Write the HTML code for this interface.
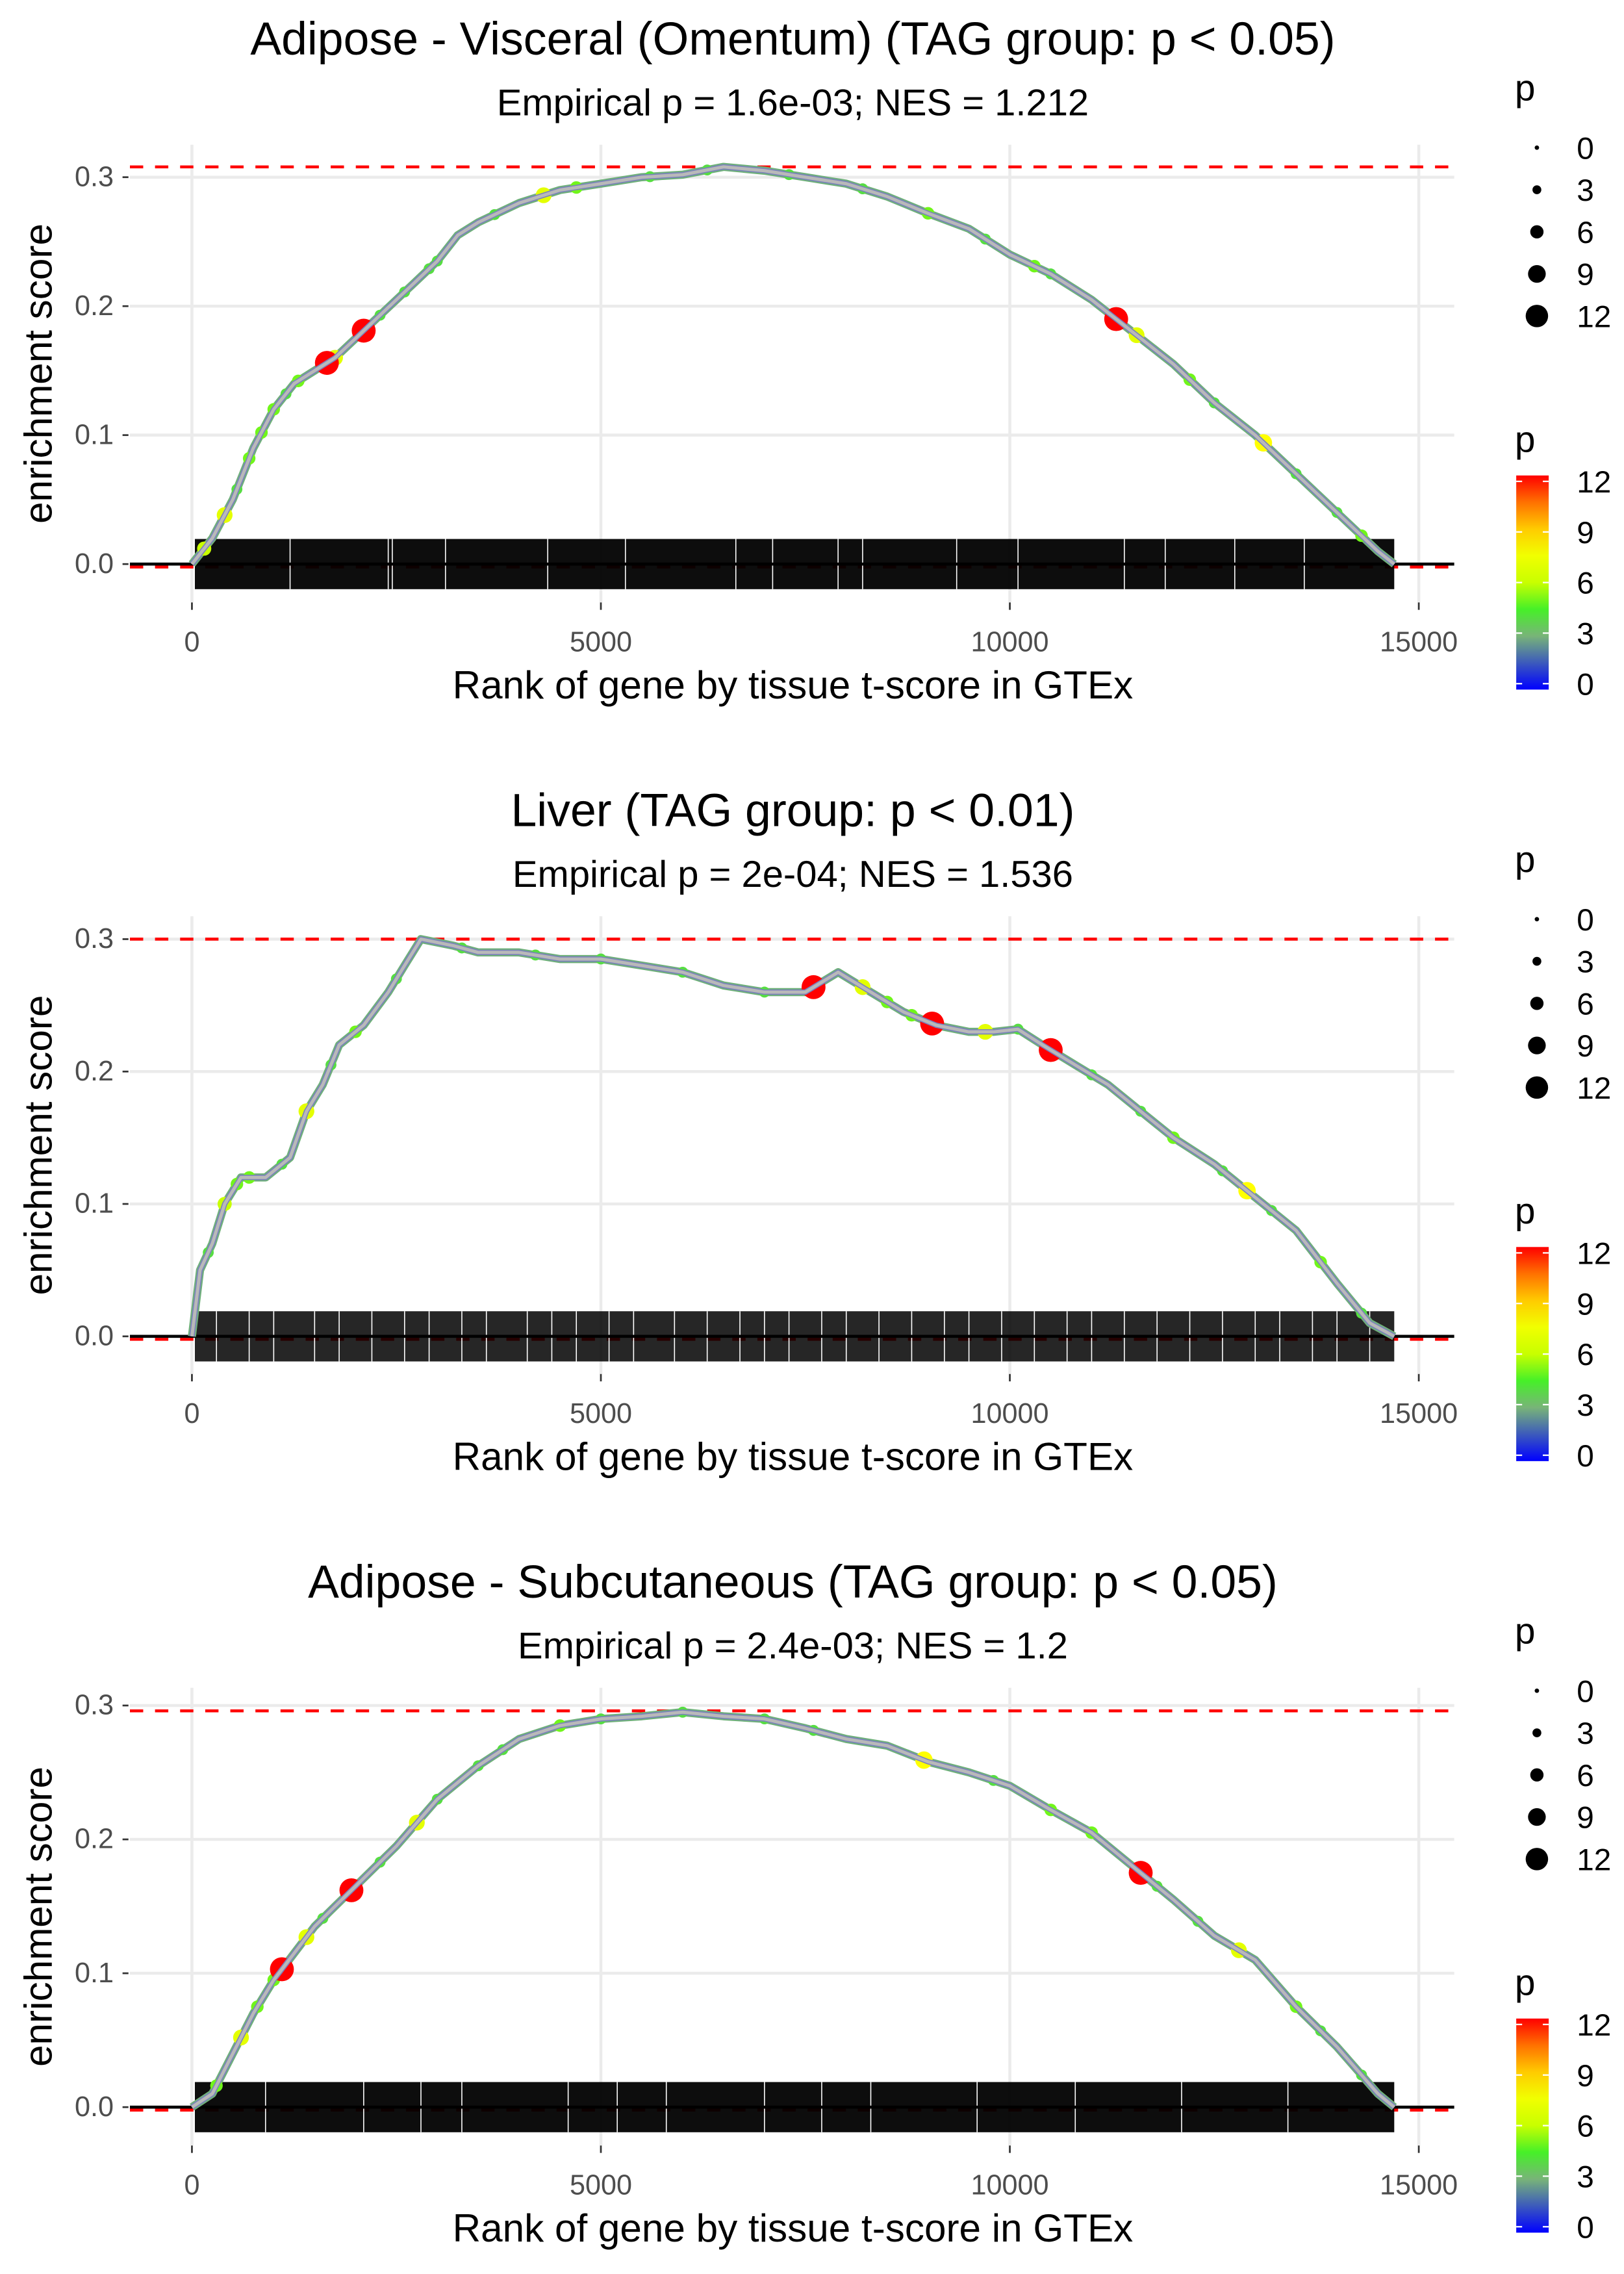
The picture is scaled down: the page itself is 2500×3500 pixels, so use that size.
<!DOCTYPE html>
<html><head><meta charset="utf-8"><style>
html,body{margin:0;padding:0;background:#fff}
svg{display:block}
text{font-family:"Liberation Sans",sans-serif}
</style></head><body>
<svg id="fig" xmlns="http://www.w3.org/2000/svg" width="2500" height="3500" viewBox="0 0 1100 1540" preserveAspectRatio="none"></svg>
<script>
// ---- data ----
const xTicks = [0, 5000, 10000, 15000];
const yTicks = [0, 0.1, 0.2, 0.3];
const yTickLabels = ["0.0", "0.1", "0.2", "0.3"];
const titles = ["Adipose - Visceral (Omentum) (TAG group: p < 0.05)", "Liver (TAG group: p < 0.01)", "Adipose - Subcutaneous (TAG group: p < 0.05)"];
const subtitles = ["Empirical p = 1.6e-03; NES = 1.212", "Empirical p = 2e-04; NES = 1.536", "Empirical p = 2.4e-03; NES = 1.2"];
const maxES = [0.308, 0.300, 0.296];
const rugEnd = [14700, 14700, 14700];
const rugOpacity = [0.95, 0.85, 0.95];
const rugGaps1 = [1200, 2400, 2450, 3100, 4350, 5300, 6650, 7100, 7900, 8200, 9350, 10100, 11400, 11900, 12750, 13600];
const rugGaps2 = [300, 700, 1000, 1500, 1800, 2200, 2600, 2900, 3300, 3600, 4100, 4400, 4700, 5100, 5400, 5900, 6300, 6700, 7000, 7300, 7700, 8000, 8400, 8800, 9200, 9500, 9900, 10300, 10700, 11000, 11400, 11800, 12200, 12600, 13000, 13300, 13700, 14000, 14400];
const rugGaps3 = [900, 2100, 2800, 3300, 4600, 5200, 5800, 7000, 7700, 8300, 9600, 10800, 12100, 13400];
const ranks1 = [0,250,500,750,1000,1250,1500,1750,2000,2250,2500,2750,3000,3250,3500,4000,4500,5000,5500,6000,6500,7000,7500,8000,8500,9000,9500,10000,10500,11000,11500,12000,12500,13000,13500,14000,14500,14700];
const es1 = [0,0.02,0.05,0.09,0.12,0.14,0.15,0.16,0.175,0.19,0.205,0.22,0.235,0.255,0.265,0.28,0.29,0.295,0.30,0.302,0.308,0.305,0.30,0.295,0.285,0.272,0.26,0.24,0.225,0.205,0.18,0.155,0.125,0.10,0.07,0.04,0.01,0];
const ranks2 = [0,100,250,400,600,900,1200,1400,1600,1800,2100,2400,2600,2800,3200,3500,4000,4500,5000,5500,6000,6500,7000,7500,7900,8300,8700,9100,9500,9800,10100,10400,10800,11200,11600,12000,12500,13000,13500,14000,14400,14700];
const es2 = [0,0.05,0.07,0.10,0.12,0.12,0.135,0.17,0.19,0.22,0.235,0.26,0.28,0.30,0.295,0.29,0.29,0.285,0.285,0.28,0.275,0.265,0.26,0.26,0.275,0.26,0.245,0.235,0.23,0.23,0.232,0.22,0.205,0.19,0.17,0.15,0.13,0.105,0.08,0.04,0.01,0];
const ranks3 = [0,250,500,750,1000,1250,1500,1750,2000,2500,3000,3500,4000,4500,5000,5500,6000,6500,7000,7500,8000,8500,9000,9500,10000,10500,11000,11500,12000,12500,13000,13500,14000,14500,14700];
const es3 = [0,0.01,0.04,0.07,0.095,0.115,0.135,0.15,0.165,0.195,0.23,0.255,0.275,0.285,0.29,0.292,0.295,0.292,0.29,0.283,0.275,0.27,0.258,0.25,0.24,0.222,0.205,0.18,0.155,0.128,0.11,0.075,0.045,0.01,0];
const hitRanks1 = [400,1750,4300,11550,13100,1000,1300,3000,6300,9000,10500,12200,14000,700,150,550,850,1150,2300,2600,2900,3700,4700,5600,7300,8200,9700,10300,12500,13500,14300,1650,2100,11300];
const hitP1 = [7,7,7,7,8,5,5,4,4,5,4,5,4,5,6,4,5,4,4,4,4,4,5,4,4,4,4,5,4,4,5,12,12,12];
const hitRanks2 = [1400,8200,9700,12900,400,700,2000,3300,5000,8500,11000,12000,13200,13800,14300,200,550,1100,1700,2500,4200,6000,7000,8800,10100,11600,12600,7600,9050,10500];
const hitP2 = [7,7,7,8,6,5,5,4,4,5,4,5,4,5,4,4,5,4,4,4,4,4,4,5,4,4,4,12,12,12];
const hitRanks3 = [600,1400,2750,8950,12800,300,1000,2300,3500,4500,6000,7000,10500,11800,13500,14300,800,1600,3000,3800,5000,7600,9800,11000,12300,13800,1100,1950,11600];
const hitP3 = [7,7,7,8,7,5,5,4,4,5,4,4,5,4,5,4,5,4,4,4,4,4,4,5,4,4,12,12,12];
const sizeLegend = [0,3,6,9,12];
const colorLegend = [12,9,6,3,0];

const panels = [
 {ranks:ranks1, es:es1, hits:hitRanks1, hp:hitP1, gaps:rugGaps1, top:0},
 {ranks:ranks2, es:es2, hits:hitRanks2, hp:hitP2, gaps:rugGaps2, top:522.5},
 {ranks:ranks3, es:es3, hits:hitRanks3, hp:hitP3, gaps:rugGaps3, top:1045}
];

const svg = document.getElementById('fig');
const NS = 'http://www.w3.org/2000/svg';
function mk(tag, attrs, parent){const e=document.createElementNS(NS,tag);for(const k in attrs)e.setAttribute(k,attrs[k]);(parent||svg).appendChild(e);return e;}
function txt(s, attrs, parent){const e=mk('text',attrs,parent);e.textContent=s;return e;}
function pColor(p){
  const stops=[[0,[0,0,255]],[3,[120,180,120]],[4.5,[70,240,40]],[6,[200,255,0]],[8,[255,255,0]],[10,[255,150,0]],[12,[255,0,0]]];
  for(let i=1;i<stops.length;i++){if(p<=stops[i][0]){const a=stops[i-1],b=stops[i];const t=(p-a[0])/(b[0]-a[0]);const c=a[1].map((v,j)=>Math.round(v+(b[1][j]-v)*t));return 'rgb('+c.join(',')+')';}}
  return 'rgb(255,0,0)';
}
function pRad(p){return 1.5+p*0.55;}
function interpES(ranks, es, r){for(let i=1;i<ranks.length;i++){if(r<=ranks[i]){const t=(r-ranks[i-1])/(ranks[i]-ranks[i-1]);return es[i-1]+(es[i]-es[i-1])*t;}}return es[es.length-1];}

panels.forEach((P, pi) => {
  const T = P.top;
  const g = mk('g', {});
  
  
  const x = r => 130 + r * (831/15000);
  const y0 = [382, 905, 1427][pi], y3 = [120, 636, 1155][pi];
  const y = v => y0 + (y3 - y0) * v / 0.3;
  const L = 88, R = 985, top = T + 98, bot = T + 408;
  const t = txt(titles[pi], {x:537, y:T+37, 'font-size':31.5, 'text-anchor':'middle', fill:'#000'}, g);
  
  
  const st = txt(subtitles[pi], {x:537, y:T+78, 'font-size':25.5, 'text-anchor':'middle', fill:'#000'}, g);
  
  
  xTicks.forEach(v => {
    const l = mk('line', {x1:x(v), x2:x(v), y1:top, y2:bot, stroke:'#ebebeb', 'stroke-width':2}, g);
    
    
    mk('line', {x1:x(v), x2:x(v), y1:bot, y2:bot+5, stroke:'#333', 'stroke-width':1.2}, g);
    const tl = txt(String(v), {x:x(v), y:T+441, 'font-size':19, 'text-anchor':'middle', fill:'#4d4d4d'}, g);
    
    
  });
  yTicks.forEach((v, i) => {
    const l = mk('line', {x1:L, x2:R, y1:y(v), y2:y(v), stroke:'#ebebeb', 'stroke-width':2}, g);
    
    
    mk('line', {x1:L-5, x2:L-1, y1:y(v), y2:y(v), stroke:'#333', 'stroke-width':1.2}, g);
    const tl = txt(yTickLabels[i], {x:77, y:y(v)+6, 'font-size':19, 'text-anchor':'end', fill:'#4d4d4d'}, g);
    
    
  });
  const xt = txt('Rank of gene by tissue t-score in GTEx', {x:537, y:T+473, 'font-size':26.5, 'text-anchor':'middle', fill:'#000'}, g);
  
  
  const yc = (top+bot)/2;
  const yt = txt('enrichment score', {x:35, y:yc, 'font-size':26.5, 'text-anchor':'middle', fill:'#000', transform:'rotate(-90 35 '+yc+')'}, g);
  
  
  const dl = mk('line', {x1:L, x2:R, y1:y(maxES[pi]), y2:y(maxES[pi]), stroke:'#ff0000', 'stroke-width':2, 'stroke-dasharray':'9 8'}, g);
  
  
  mk('line', {x1:L, x2:R, y1:y(0)+2, y2:y(0)+2, stroke:'#ff0000', 'stroke-width':2, 'stroke-dasharray':'9 8'}, g);
  const rug = mk('rect', {x:x(0)+2, y:y(0)-17, width:x(rugEnd[pi])-x(0)-2, height:34, fill:'#000', 'fill-opacity':rugOpacity[pi]}, g);
  
  
  P.gaps.forEach(r => {
    mk('line', {x1:x(r), x2:x(r), y1:y(0)-17, y2:y(0)+17, stroke:'#fff', 'stroke-width':0.7}, g);
  });
  const zl = mk('line', {x1:L, x2:R, y1:y(0), y2:y(0), stroke:'#000', 'stroke-width':2}, g);
  
  
  const d = P.ranks.map((r,i)=>(i?'L':'M')+x(r).toFixed(1)+','+y(P.es[i]).toFixed(1)).join(' ');
  const c1 = mk('path', {d:d, fill:'none', stroke:'#6fb07a', 'stroke-width':5.5, 'stroke-linejoin':'round'}, g);
  
  
  P.hits.forEach((r, i) => {
    const p = P.hp[i];
    const c = mk('circle', {cx:x(r), cy:y(interpES(P.ranks, P.es, r)), r:pRad(p), fill:pColor(p)}, g);
    
    
  });
  mk('path', {d:d, fill:'none', stroke:'#7a80bd', 'stroke-width':3.6, 'stroke-linejoin':'round'}, g);
  const c2 = mk('path', {d:d, fill:'none', stroke:'#b9b9b9', 'stroke-width':2.2, 'stroke-linejoin':'round'}, g);
  
  

  const lg = mk('g', {}, g);
  
  
  txt('p', {x:1026, y:T+68, 'font-size':25, fill:'#000'}, lg);
  sizeLegend.forEach((v, i) => {
    const cy = T + 100 + i*28.5;
    mk('circle', {cx:1041, cy:cy, r:[1.5,3,4.5,6,7.6][i], fill:'#000'}, lg);
    txt(String(v), {x:1068, y:cy+7.5, 'font-size':21, fill:'#000'}, lg);
  });
  const cg = mk('g', {}, g);
  
  
  txt('p', {x:1026, y:T+306, 'font-size':25, fill:'#000'}, cg);
  const gid = 'grad'+pi;
  const defs = mk('defs', {}, cg);
  const lgd = mk('linearGradient', {id:gid, x1:0, y1:1, x2:0, y2:0}, defs);
  [0,1.5,3,4.5,6,7.5,9,10.5,12].forEach(v => mk('stop', {offset:(v/12), 'stop-color':pColor(v)}, lgd));
  const by0 = T+467, by1 = T+322;
  mk('rect', {x:1027, y:by1, width:22, height:by0-by1, fill:'url(#'+gid+')'}, cg);
  colorLegend.forEach(v => {
    const yy = by0 - 4 - (v/12)*(by0-by1-8);
    mk('line', {x1:1027, x2:1031, y1:yy, y2:yy, stroke:'#fff', 'stroke-width':1}, cg);
    mk('line', {x1:1045, x2:1049, y1:yy, y2:yy, stroke:'#fff', 'stroke-width':1}, cg);
    txt(String(v), {x:1068, y:yy+7.5, 'font-size':21, fill:'#000'}, cg);
  });
});
</script>
</body></html>
